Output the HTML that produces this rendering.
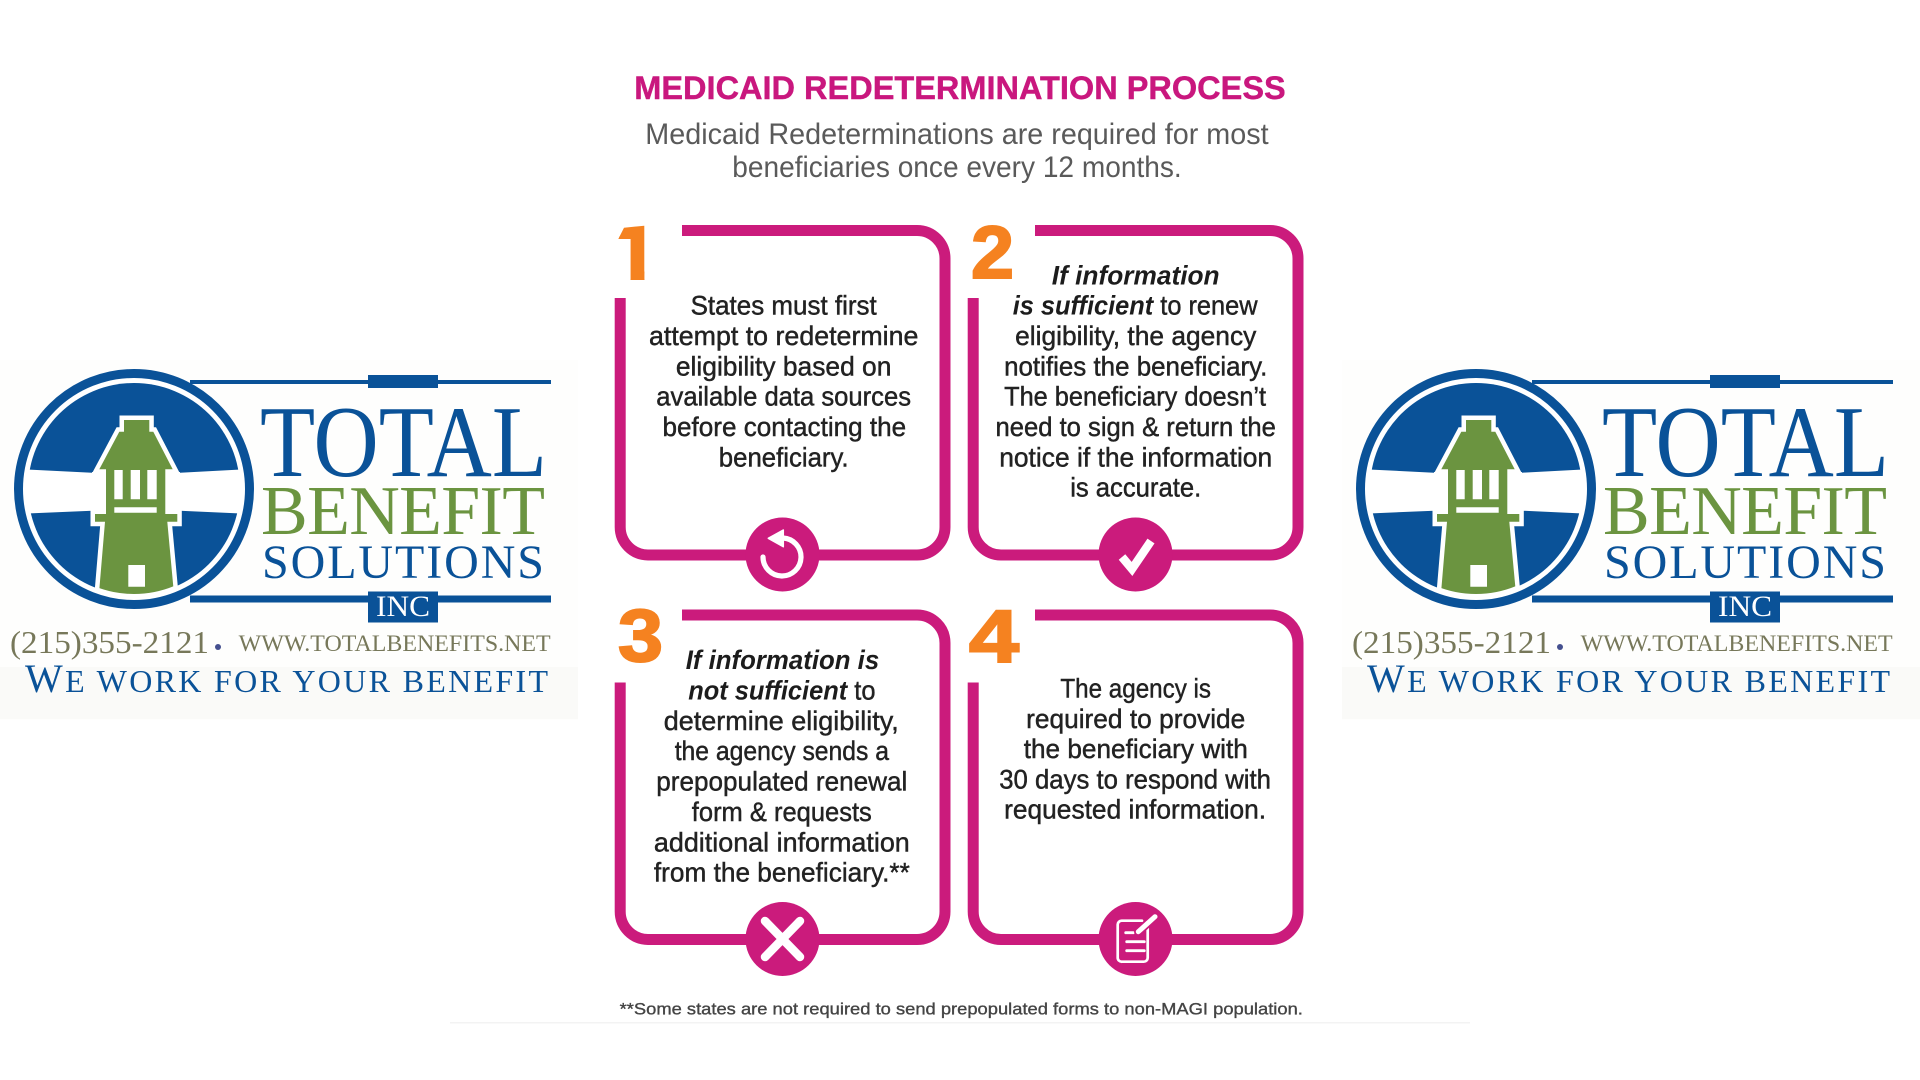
<!DOCTYPE html>
<html><head><meta charset="utf-8"><title>Medicaid Redetermination Process</title>
<style>
html,body{margin:0;padding:0;background:#fff;width:1920px;height:1080px;overflow:hidden}
svg{display:block}
.s{font-family:"Liberation Sans",sans-serif}
.f{font-family:"Liberation Serif",serif}
.b{font-family:"Liberation Sans",sans-serif;font-size:27px;fill:#222;stroke:#222;stroke-width:.45}
.bi{font-weight:bold;font-style:italic;stroke:none;fill:#1c1c1c}
.n{font-family:"Liberation Sans",sans-serif;font-weight:bold;font-size:74px;fill:#F58220;stroke:#F58220;stroke-width:2}
</style></head><body>
<svg width="1920" height="1080" viewBox="0 0 1920 1080" xmlns="http://www.w3.org/2000/svg">
<defs>
<clipPath id="disc"><circle cx="134" cy="489" r="105"/></clipPath>
<clipPath id="halo"><circle cx="134" cy="489" r="110"/></clipPath>
<clipPath id="one"><path d="M618.3 239L624 227.7L644.3 225.7V280H630.7V239Z"/></clipPath>
<g id="box"><path d="M682 230.5H917A28 28 0 0 1 945 258.5V527A28 28 0 0 1 917 555H648A28 28 0 0 1 620.2 527V298" fill="none" stroke="#CB1B7C" stroke-width="11"/><circle cx="782.5" cy="554.5" r="37" fill="#CB1B7C"/></g>
<g id="mark">
<path d="M190 382H551" stroke="#0A5298" stroke-width="4"/><rect x="368" y="375" width="70" height="13" fill="#0A5298"/>
<path d="M190 599H551" stroke="#0A5298" stroke-width="7"/><rect x="368" y="591.5" width="70" height="31" fill="#0A5298"/>
<circle cx="134" cy="489" r="115.5" fill="#fff" stroke="#0A5298" stroke-width="9"/>
<circle cx="134" cy="489" r="106" fill="#0A5298"/>
<path d="M27 469.5L92 472.7V510.7L27 513.5ZM180 472.7L241 469.5V513.5L180 510.7Z" fill="#fff"/>
<path d="M92 472H180V511H92Z" fill="#fff"/>
<g clip-path="url(#halo)"><path d="M124 420H149.3V431.7H153.3L172.7 469.3H165.3V514H177.3V521.7H167.3L175 605H98L105 521.7H95V514H106V469.3H99.3L119.3 431.7H124Z" fill="#fff" stroke="#fff" stroke-width="9" stroke-linejoin="miter"/></g>
<path d="M124 420H149.3V431.7H153.3L172.7 469.3H165.3V514H177.3V521.7H167.3L175 605H98L105 521.7H95V514H106V469.3H99.3L119.3 431.7H124Z" fill="#6B9440" clip-path="url(#disc)"/>
<path d="M114.3 470H122.7V499.3H114.3ZM130.7 470H140V499.3H130.7ZM147.3 470H156.7V499.3H147.3ZM114.3 507.3H156.7V512.7H114.3ZM128.3 565H145V586.7H128.3Z" fill="#fff"/>
</g>
</defs>

<rect x="0" y="360" width="578" height="360" fill="#fefefd"/>
<rect x="0" y="667" width="578" height="52" fill="#fafaf8"/>
<rect x="1342" y="360" width="578" height="360" fill="#fefefd"/>
<rect x="1342" y="667" width="578" height="52" fill="#fafaf8"/>
<rect x="450" y="1022" width="1020" height="1.5" fill="#f3f3f3"/>

<!-- left logo -->
<g>
<use href="#mark"/>
<text class="f" x="260" y="476" font-size="102" fill="#0A5298" textLength="287" lengthAdjust="spacingAndGlyphs">TOTAL</text>
<text class="f" x="261" y="534" font-size="70" fill="#6B9440" textLength="284" lengthAdjust="spacing">BENEFIT</text>
<text class="f" x="262" y="578" font-size="48" fill="#0A5298" textLength="282" lengthAdjust="spacing">SOLUTIONS</text>
<text class="f" x="376" y="616" font-size="30" fill="#fff" textLength="54" lengthAdjust="spacingAndGlyphs">INC</text>
<text class="f" x="10" y="653" font-size="32" fill="#77785A" textLength="199" lengthAdjust="spacingAndGlyphs">(215)355-2121</text>
<circle cx="218" cy="647" r="3" fill="#45508F"/>
<text class="f" x="238.7" y="651" font-size="23" fill="#77785A" textLength="312" lengthAdjust="spacingAndGlyphs">WWW.TOTALBENEFITS.NET</text>
<text class="f" x="25" y="692" font-size="32" fill="#0A5298" textLength="523" lengthAdjust="spacing"><tspan font-size="40">W</tspan>E WORK FOR YOUR BENEFIT</text>
</g>
<!-- right logo -->
<g transform="translate(1342 0)">
<use href="#mark"/>
<text class="f" x="260" y="476" font-size="102" fill="#0A5298" textLength="287" lengthAdjust="spacingAndGlyphs">TOTAL</text>
<text class="f" x="261" y="534" font-size="70" fill="#6B9440" textLength="284" lengthAdjust="spacing">BENEFIT</text>
<text class="f" x="262" y="578" font-size="48" fill="#0A5298" textLength="282" lengthAdjust="spacing">SOLUTIONS</text>
<text class="f" x="376" y="616" font-size="30" fill="#fff" textLength="54" lengthAdjust="spacingAndGlyphs">INC</text>
<text class="f" x="10" y="653" font-size="32" fill="#77785A" textLength="199" lengthAdjust="spacingAndGlyphs">(215)355-2121</text>
<circle cx="218" cy="647" r="3" fill="#45508F"/>
<text class="f" x="238.7" y="651" font-size="23" fill="#77785A" textLength="312" lengthAdjust="spacingAndGlyphs">WWW.TOTALBENEFITS.NET</text>
<text class="f" x="25" y="692" font-size="32" fill="#0A5298" textLength="523" lengthAdjust="spacing"><tspan font-size="40">W</tspan>E WORK FOR YOUR BENEFIT</text>
</g>

<!-- header -->
<text class="s" x="634.3" y="99" font-size="32" font-weight="bold" fill="#C9177E" stroke="#C9177E" stroke-width=".4" textLength="651.4" lengthAdjust="spacingAndGlyphs">MEDICAID REDETERMINATION PROCESS</text>
<text class="s" x="645.3" y="144" font-size="30" fill="#5a5a5a" textLength="623.3" lengthAdjust="spacingAndGlyphs">Medicaid Redeterminations are required for most</text>
<text class="s" x="732.3" y="177" font-size="30" fill="#5a5a5a" textLength="449.4" lengthAdjust="spacingAndGlyphs">beneficiaries once every 12 months.</text>

<!-- boxes -->
<use href="#box"/>
<use href="#box" x="353"/>
<use href="#box" y="384.5"/>
<use href="#box" x="353" y="384.5"/>

<!-- numbers -->
<path d="M618.3 239L624 227.7L644.3 225.7V280H630.7V239Z" fill="#F58220"/>
<text class="n" x="616" y="280" textLength="31" lengthAdjust="spacingAndGlyphs" clip-path="url(#one)">1</text>
<text class="n" x="971" y="278" textLength="43" lengthAdjust="spacingAndGlyphs">2</text>
<text class="n" x="618" y="661" textLength="45" lengthAdjust="spacingAndGlyphs">3</text>
<text class="n" x="969" y="662" textLength="50" lengthAdjust="spacingAndGlyphs">4</text>

<!-- box 1 -->
<text class="b" x="690.6" y="314.5" textLength="186.1" lengthAdjust="spacingAndGlyphs">States must first</text>
<text class="b" x="649" y="345" textLength="269.4" lengthAdjust="spacingAndGlyphs">attempt to redetermine</text>
<text class="b" x="675.9" y="375.3" textLength="215.5" lengthAdjust="spacingAndGlyphs">eligibility based on</text>
<text class="b" x="656.3" y="405.7" textLength="254.7" lengthAdjust="spacingAndGlyphs">available data sources</text>
<text class="b" x="662.5" y="436" textLength="243.7" lengthAdjust="spacingAndGlyphs">before contacting the</text>
<text class="b" x="718.8" y="466.5" textLength="129.8" lengthAdjust="spacingAndGlyphs">beneficiary.</text>

<!-- box 2 -->
<text class="b bi" x="1051.8" y="284.7" textLength="167.8" lengthAdjust="spacingAndGlyphs">If information</text>
<text class="b" x="1012.7" y="314.5" textLength="244.9" lengthAdjust="spacingAndGlyphs"><tspan class="bi">is sufficient</tspan> to renew</text>
<text class="b" x="1015.1" y="345" textLength="241.2" lengthAdjust="spacingAndGlyphs">eligibility, the agency</text>
<text class="b" x="1004.1" y="375.3" textLength="263.3" lengthAdjust="spacingAndGlyphs">notifies the beneficiary.</text>
<text class="b" x="1004.1" y="405.7" textLength="262" lengthAdjust="spacingAndGlyphs">The beneficiary doesn’t</text>
<text class="b" x="995.5" y="436" textLength="280.4" lengthAdjust="spacingAndGlyphs">need to sign &amp; return the</text>
<text class="b" x="999.2" y="466.5" textLength="273" lengthAdjust="spacingAndGlyphs">notice if the information</text>
<text class="b" x="1070.2" y="496.5" textLength="131" lengthAdjust="spacingAndGlyphs">is accurate.</text>

<!-- box 3 -->
<text class="b bi" x="685.7" y="669" textLength="193.5" lengthAdjust="spacingAndGlyphs">If information is</text>
<text class="b" x="688.2" y="699.4" textLength="187.3" lengthAdjust="spacingAndGlyphs"><tspan class="bi">not sufficient</tspan> to</text>
<text class="b" x="663.7" y="729.8" textLength="235.1" lengthAdjust="spacingAndGlyphs">determine eligibility,</text>
<text class="b" x="674.7" y="760.2" textLength="214.3" lengthAdjust="spacingAndGlyphs">the agency sends a</text>
<text class="b" x="656.3" y="790.6" textLength="251" lengthAdjust="spacingAndGlyphs">prepopulated renewal</text>
<text class="b" x="691.8" y="821" textLength="180" lengthAdjust="spacingAndGlyphs">form &amp; requests</text>
<text class="b" x="653.9" y="851.4" textLength="255.9" lengthAdjust="spacingAndGlyphs">additional information</text>
<text class="b" x="653.9" y="881.5" textLength="255.9" lengthAdjust="spacingAndGlyphs">from the beneficiary.**</text>

<!-- box 4 -->
<text class="b" x="1060.4" y="697.4" textLength="150.6" lengthAdjust="spacingAndGlyphs">The agency is</text>
<text class="b" x="1026.1" y="727.8" textLength="219.2" lengthAdjust="spacingAndGlyphs">required to provide</text>
<text class="b" x="1023.7" y="758.2" textLength="224.1" lengthAdjust="spacingAndGlyphs">the beneficiary with</text>
<text class="b" x="999.2" y="788.6" textLength="271.8" lengthAdjust="spacingAndGlyphs">30 days to respond with</text>
<text class="b" x="1004.1" y="818.5" textLength="262" lengthAdjust="spacingAndGlyphs">requested information.</text>

<!-- footnote -->
<text class="s" x="619.6" y="1014.5" font-size="17" fill="#444" stroke="#444" stroke-width=".35" textLength="683.3" lengthAdjust="spacingAndGlyphs">**Some states are not required to send prepopulated forms to non-MAGI population.</text>

<!-- icons -->
<g fill="none" stroke="#fff" stroke-linecap="round" stroke-linejoin="round">
<path d="M783 538A19 19 0 1 1 763 557" stroke-width="5.2"/>
<path d="M768.3 538.3L783.3 530V546.7Z" stroke-width="1.5" fill="#fff"/>
<path d="M1122 557L1132 569L1151 541" stroke-width="8.5" stroke-linecap="butt" stroke-linejoin="miter"/>
<path d="M765 921L800 957M800 921L765 957" stroke-width="8.5"/>
<path d="M1142 920.7H1122A4 4 0 0 0 1117.7 925V957.5A4 4 0 0 0 1122 961.7H1143.5A4 4 0 0 0 1147.7 957.5V928" stroke-width="2.7"/>
<path d="M1125.7 932.7H1133.3M1126.7 941.7H1144.3M1126.7 950.7H1144.3" stroke-width="2.8"/>
<path d="M1138.3 931.7L1155 916.7" stroke-width="8.5" stroke="#CB1B7C"/>
<path d="M1138.3 931.7L1155 916.7" stroke-width="5"/>
</g>
</svg>
</body></html>
